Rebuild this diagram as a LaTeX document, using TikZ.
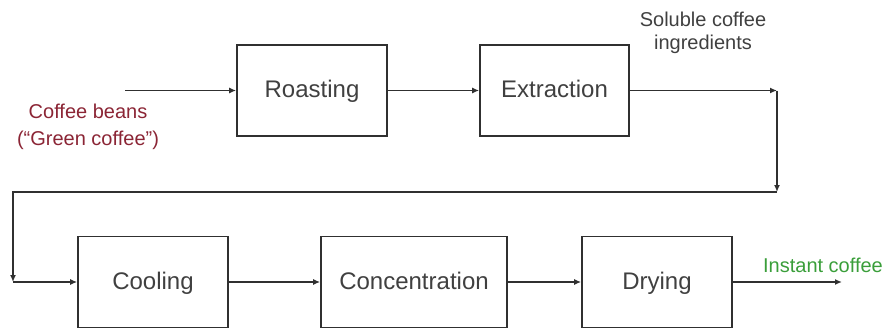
\documentclass[tikz,border=0pt]{standalone}
\usepackage{fontspec}
\setmainfont{Liberation Sans}
\usetikzlibrary{arrows.meta}
\definecolor{linec}{HTML}{303030}
\definecolor{textc}{HTML}{404040}
\definecolor{beanred}{HTML}{8B2535}
\definecolor{instgreen}{HTML}{3A9E3A}
\begin{document}
\begin{tikzpicture}[x=1pt,y=-1pt,
  procbox/.style={draw=linec, line width=1.6pt, rectangle, minimum height=91pt, text=textc, font=\fontsize{24}{28}\selectfont, inner sep=0pt, text height=19pt, text depth=5pt},
  arr/.style={draw=linec, line width=1.5pt, -{Latex[length=7pt,width=6pt]}},
  lbl/.style={font=\fontsize{20}{24}\selectfont, align=center, inner sep=0pt}]
\useasboundingbox (0,0) rectangle (887,330);
\node[procbox, minimum width=150pt] (roast) at (312,90.5) {Roasting};
\node[procbox, minimum width=149pt] (extr) at (554.5,90.5) {Extraction};
\node[procbox, minimum width=150pt] (cool) at (153,282) {Cooling};
\node[procbox, minimum width=186pt] (conc) at (414,282) {Concentration};
\node[procbox, minimum width=150pt] (dry) at (657,282) {Drying};
\coordinate (in) at (125,90.5);
\coordinate (c1) at (777,90.5);
\coordinate (c2) at (777,192);
\coordinate (c3) at (13,192);
\coordinate (c4) at (13,282);
\coordinate (out) at (842,282);
\node[lbl, text=beanred, font=\fontsize{20}{27}\selectfont] (beans) at (88,127) {Coffee beans\\(“Green coffee”)};
\node[lbl, text=textc, font=\fontsize{20}{23}\selectfont] (sol) at (703,33) {Soluble coffee\\ingredients};
\node[lbl, text=instgreen] (inst) at (823,265) {Instant coffee};
\draw[arr] (in) -- (roast.west);
\draw[arr] (roast.east) -- (extr.west);
\draw[arr] (extr.east) -- (c1);
\draw[arr] (c1) -- (c2);
\draw[arr] (c2) -- (c3) -- (c4);
\draw[arr] (c4) -- (cool.west);
\draw[arr] (cool.east) -- (conc.west);
\draw[arr] (conc.east) -- (dry.west);
\draw[arr] (dry.east) -- (out);
\end{tikzpicture}
\end{document}
